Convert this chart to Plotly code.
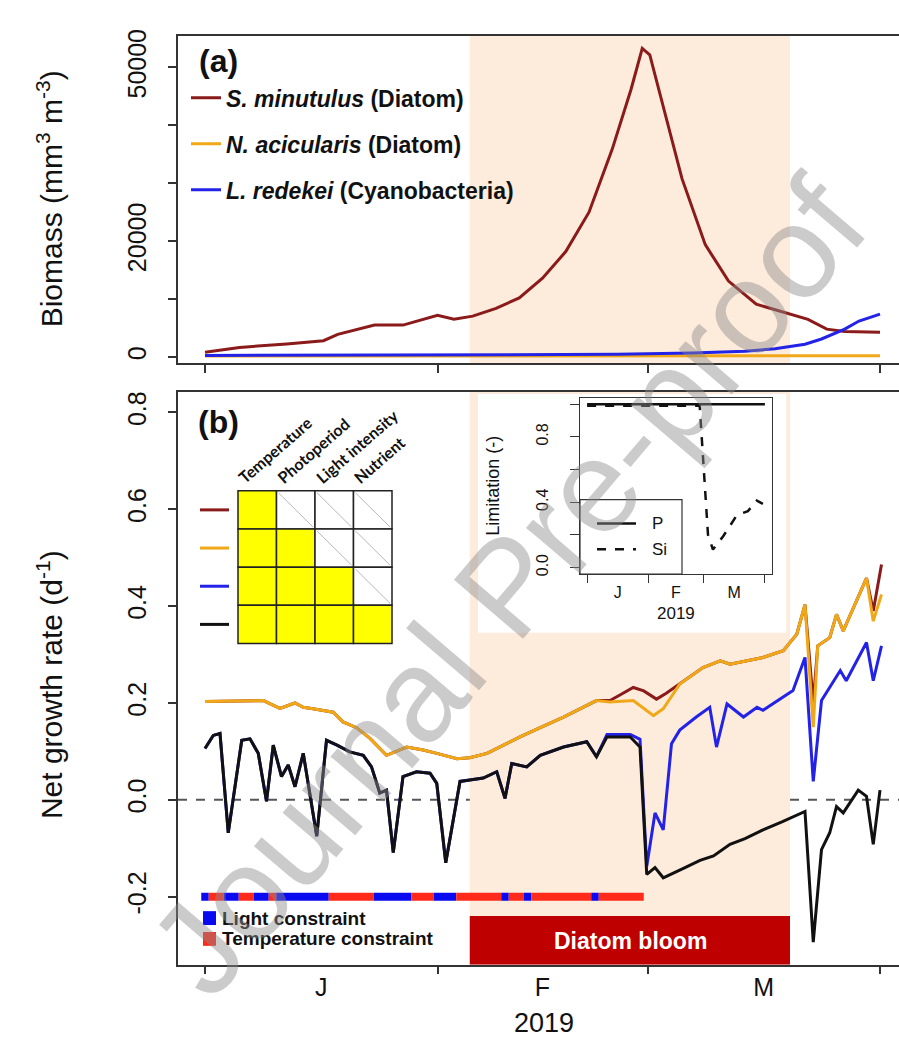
import plotly.graph_objects as go

W, H = 899, 1046
FONT = "Liberation Sans, Arial, sans-serif"

# ---------------- data ----------------
month_ticks = [0, 31, 59, 90]
month_mid = [15.5, 45, 74.5]
month_labels = ["J", "F", "M"]
bloom_start, bloom_end = 35.3, 78.0

# (a) biomass, mm3 m-3 (day of 2019)
smin_bio_day = [0, 4.6, 10.9, 15.8, 17.7, 22.6, 26.4, 31.0, 33.2, 35.7, 38.8, 41.9, 45.0, 48.1,
                51.2, 54.3, 56.8, 58.3, 59.3, 61.1, 63.6, 66.7, 69.8, 73.5, 77.9, 80.4, 82.9, 85.3, 90.0]
smin_bio = [800, 1650, 2250, 2800, 3900, 5500, 5500, 7200, 6500, 7050, 8400, 10200, 13600, 18200,
            25000, 35900, 46200, 53300, 52200, 43300, 30800, 19400, 13100, 9100, 7400, 6500, 4800, 4400, 4250]
nacic_bio_day = [0, 30, 60, 90]
nacic_bio = [150, 160, 180, 200]
lred_bio_day = [0, 20, 40, 55, 65, 72, 76, 80, 82.2, 85.3, 87.2, 90]
lred_bio = [250, 300, 350, 450, 700, 1000, 1400, 2200, 3100, 4800, 6200, 7400]
bio_ticks_labelled = [0, 20000, 50000]
bio_ticklabels = ["0", "20000", "50000"]
bio_ticks_unlabelled = [10000, 30000, 40000]

# (b) net growth rate, d-1
smin_gr_day = [0, 7.8, 8.7, 10, 12, 13.1, 14.4, 15.8, 17.1, 18.4, 20.2, 22, 24.2, 26.9, 29.1, 30.9,
               33.6, 35.3, 37.6, 39.8, 42, 44.7, 47.8, 52.2, 54, 55.5, 57.1, 58.5, 60.2, 61.5, 63.3,
               66.4, 68.7, 70, 74.4, 77.1, 78.9, 80, 81.1, 81.7, 83.3, 84.2, 85.1, 88.2, 89.1, 90.2]
smin_gr = [0.203, 0.205, 0.198, 0.189, 0.200, 0.191, 0.188, 0.185, 0.181, 0.161, 0.149, 0.127, 0.092,
           0.109, 0.103, 0.096, 0.085, 0.087, 0.096, 0.113, 0.130, 0.149, 0.171, 0.205, 0.205, 0.218,
           0.232, 0.225, 0.208, 0.220, 0.239, 0.273, 0.287, 0.280, 0.294, 0.308, 0.342, 0.403, 0.200,
           0.318, 0.335, 0.383, 0.349, 0.458, 0.390, 0.486]
nacic_gr_day = [0, 7.8, 8.7, 10, 12, 13.1, 14.4, 15.8, 17.1, 18.4, 20.2, 22, 24.2, 26.9, 29.1, 30.9,
                33.6, 35.3, 37.6, 39.8, 42, 44.7, 47.8, 52.2, 54, 57.1, 59.8, 61.1, 63.3, 66.4, 68.7,
                70, 74.4, 77.1, 78.9, 80, 81.1, 81.7, 83.3, 84.2, 85.1, 88.2, 89.1, 90.2]
nacic_gr = [0.203, 0.205, 0.198, 0.189, 0.200, 0.191, 0.188, 0.185, 0.181, 0.161, 0.149, 0.127, 0.092,
            0.109, 0.103, 0.096, 0.085, 0.087, 0.096, 0.113, 0.130, 0.149, 0.171, 0.205, 0.202, 0.205,
            0.174, 0.188, 0.239, 0.273, 0.287, 0.280, 0.294, 0.308, 0.342, 0.403, 0.150, 0.318, 0.335,
            0.383, 0.349, 0.458, 0.369, 0.424]
lred_gr_day = [0, 1.1, 2, 3.1, 4.9, 6, 7.1, 8.2, 9.1, 10.2, 11.1, 12, 13.1, 14.9, 16.2, 17.6, 19.3,
               21.1, 22.2, 23.3, 24.2, 25.1, 26.4, 28.2, 30, 30.9, 32.1, 34, 35.3, 37.1, 38.9, 40, 40.9,
               42.9, 44.7, 47.8, 50.9, 52.2, 53.6, 56.7, 58, 58.9, 60, 61.1, 62.2, 63.3, 65.5, 67.3,
               68.2, 69.6, 71.8, 73.6, 74.4, 77.1, 78.4, 80, 81.1, 82.2, 83.3, 84.7, 85.5, 88.2, 89.1, 90.2]
lred_gr = [0.106, 0.133, 0.137, -0.068, 0.123, 0.126, 0.096, -0.003, 0.113, 0.048, 0.072, 0.027, 0.096,
           -0.075, 0.123, 0.113, 0.099, 0.092, 0.068, 0.014, 0.020, -0.109, 0.048, 0.058, 0.055, 0.034,
           -0.130, 0.038, 0.041, 0.045, 0.058, 0.003, 0.075, 0.068, 0.092, 0.109, 0.120, 0.089, 0.135,
           0.135, 0.125, -0.137, -0.027, -0.062, 0.116, 0.144, 0.171, 0.191, 0.109, 0.198, 0.171, 0.191,
           0.185, 0.212, 0.226, 0.294, 0.038, 0.205, 0.232, 0.267, 0.246, 0.325, 0.246, 0.318]
all_gr_day = [0, 1.1, 2, 3.1, 4.9, 6, 7.1, 8.2, 9.1, 10.2, 11.1, 12, 13.1, 14.9, 16.2, 17.6, 19.3,
              21.1, 22.2, 23.3, 24.2, 25.1, 26.4, 28.2, 30, 30.9, 32.1, 34, 35.3, 37.1, 38.9, 40, 40.9,
              42.9, 44.7, 47.8, 50.9, 52.2, 53.6, 56.7, 58, 58.9, 60, 61.1, 64, 66, 67.8, 70, 72, 74.4,
              77, 80, 81.1, 82.2, 83.3, 84.2, 85.1, 87.1, 88.2, 89.1, 90]
all_gr = [0.106, 0.133, 0.137, -0.068, 0.123, 0.126, 0.096, -0.003, 0.113, 0.048, 0.072, 0.027, 0.096,
          -0.075, 0.123, 0.113, 0.099, 0.092, 0.068, 0.014, 0.020, -0.109, 0.048, 0.058, 0.055, 0.034,
          -0.130, 0.038, 0.041, 0.045, 0.058, 0.003, 0.075, 0.068, 0.092, 0.109, 0.120, 0.089, 0.130,
          0.130, 0.109, -0.154, -0.140, -0.161, -0.140, -0.125, -0.116, -0.092, -0.080, -0.062, -0.045,
          -0.024, -0.294, -0.103, -0.068, -0.014, -0.027, 0.020, 0.007, -0.092, 0.020]
gr_ticks = [-0.2, 0.0, 0.2, 0.4, 0.6, 0.8]
gr_ticklabels = ["-0.2", "0.0", "0.2", "0.4", "0.6", "0.8"]

# daily dominant constraint (L = light, T = temperature), days 0..58
constraint_code = "LTTLLTTLLTLLLLLLLTTTTTTLLLLLTTTLLLTTTTTTLTTLTTTTTTTTLTTTTTT"
constraint_level = -0.2

# limitation matrix (rows: species, cols: factors)
matrix_factors = ["Temperature", "Photoperiod", "Light intensity", "Nutrient"]
matrix_rows = [[1, 0, 0, 0], [1, 1, 0, 0], [1, 1, 1, 0], [1, 1, 1, 1]]

# inset: nutrient limitation of S. minutulus
P_day = [0, 30, 60, 90]
P_lim = [1.0, 1.0, 1.0, 1.0]
Si_day = [0, 20, 40, 57, 61.2, 63.7, 68.8, 75.8, 81.4, 85.9, 89]
Si_lim = [0.99, 0.99, 0.99, 0.99, 0.20, 0.11, 0.19, 0.32, 0.345, 0.41, 0.39]
lim_ticks_labelled = [0, 0.4, 0.8]
lim_ticklabels = ["0.0", "0.4", "0.8"]
lim_ticks_unlabelled = [0.2, 0.6, 1.0]

# ---------------- styling ----------------
C_SMIN = "#8B1A1A"
C_NACI = "#F0A818"
C_LRED = "#2222E8"
C_ALL = "#111111"
C_LIGHT = "#0A0AF0"
C_TEMP = "#FF2A1A"
C_SHADE = "#FDEBDB"
C_BLOOM = "#BE0000"
AX = "#333333"


def fx(p):
    return p / W


def fy(p):
    return 1 - p / H


X_RANGE = [-3.6, (899 - 205) / 7.5]

fig = go.Figure()

# panel (a)
fig.add_trace(go.Scatter(x=smin_bio_day, y=smin_bio, mode="lines", line=dict(color=C_SMIN, width=3),
                         name="<b><i>S. minutulus</i> (Diatom)</b>", legendgroup="g1", xaxis="x", yaxis="y"))
fig.add_trace(go.Scatter(x=nacic_bio_day, y=nacic_bio, mode="lines", line=dict(color=C_NACI, width=3),
                         name="<b><i>N. acicularis</i> (Diatom)</b>", legendgroup="g2", xaxis="x", yaxis="y"))
fig.add_trace(go.Scatter(x=lred_bio_day, y=lred_bio, mode="lines", line=dict(color=C_LRED, width=3),
                         name="<b><i>L. redekei</i> (Cyanobacteria)</b>", legendgroup="g3", xaxis="x", yaxis="y"))

# panel (b)
for xs, ys, col in [(smin_gr_day, smin_gr, C_SMIN), (nacic_gr_day, nacic_gr, C_NACI),
                    (lred_gr_day, lred_gr, C_LRED), (all_gr_day, all_gr, C_ALL)]:
    fig.add_trace(go.Scatter(x=xs, y=ys, mode="lines", line=dict(color=col, width=3),
                             showlegend=False, xaxis="x2", yaxis="y2"))

# constraint strip: consecutive runs
runs = []
start = 0
for i in range(1, len(constraint_code) + 1):
    if i == len(constraint_code) or constraint_code[i] != constraint_code[start]:
        runs.append((start, i - 1, constraint_code[start]))
        start = i
for a, b, code in runs:
    fig.add_trace(go.Scatter(x=[a - 0.5, b + 0.5], y=[constraint_level, constraint_level], mode="lines",
                             line=dict(color=C_LIGHT if code == "L" else C_TEMP, width=8),
                             showlegend=False, xaxis="x2", yaxis="y2", hoverinfo="skip"))

# inset
fig.add_trace(go.Scatter(x=P_day, y=P_lim, mode="lines", line=dict(color="#111", width=2.5),
                         showlegend=False, xaxis="x3", yaxis="y3"))
fig.add_trace(go.Scatter(x=Si_day, y=Si_lim, mode="lines", line=dict(color="#111", width=2.5, dash="dash"),
                         showlegend=False, xaxis="x3", yaxis="y3"))

line_kw = dict(showgrid=False, zeroline=False, showline=True, linecolor=AX, linewidth=1.5)
tick_kw = dict(ticks="outside", ticklen=8, tickwidth=1.5, tickcolor=AX)
main_font = dict(family=FONT, size=25, color="#111")
inset_font = dict(family=FONT, size=16, color="#111")

fig.update_layout(
    width=W, height=H, margin=dict(l=0, r=0, t=0, b=0),
    paper_bgcolor="white", plot_bgcolor="rgba(0,0,0,0)",
    font=dict(family=FONT, color="#111"),
    xaxis=dict(domain=[fx(178), 1], range=X_RANGE, tickvals=month_ticks, showticklabels=False,
               anchor="y", mirror=True, **line_kw, **tick_kw),
    yaxis=dict(domain=[fy(359), fy(29)], range=[-1030, 55480], tickvals=bio_ticks_labelled,
               ticktext=bio_ticklabels,
               minor=dict(tickvals=bio_ticks_unlabelled, ticks="outside", ticklen=8, tickwidth=1.5, tickcolor=AX),
               tickangle=-90, tickfont=main_font, ticklabelstandoff=12, anchor="x", **line_kw, **tick_kw),
    xaxis2=dict(domain=[fx(178), 1], range=X_RANGE, tickvals=month_mid, ticktext=month_labels, ticks="",
                minor=dict(tickvals=month_ticks, ticks="outside", ticklen=8, tickwidth=1.5, tickcolor=AX),
                tickfont=main_font, ticklabelstandoff=0, anchor="y2", mirror=True, **line_kw),
    yaxis2=dict(domain=[fy(966), fy(388)], range=[-0.3405, 0.843], tickvals=gr_ticks, ticktext=gr_ticklabels,
                tickangle=-90, tickfont=main_font, ticklabelstandoff=12, anchor="x2", **line_kw, **tick_kw),
    xaxis3=dict(domain=[fx(580), fx(772)], range=[-3.6, 93.6], tickvals=month_mid, ticktext=month_labels,
                ticks="", minor=dict(tickvals=month_ticks, ticks="outside", ticklen=8, tickwidth=1.2, tickcolor=AX),
                tickfont=inset_font, ticklabelstandoff=4, anchor="y3", mirror=True,
                showgrid=False, zeroline=False, showline=True, linecolor=AX, linewidth=1.2),
    yaxis3=dict(domain=[fy(572), fy(394)], range=[-0.04, 1.04], tickvals=lim_ticks_labelled,
                ticktext=lim_ticklabels,
                minor=dict(tickvals=lim_ticks_unlabelled, ticks="outside", ticklen=9, tickwidth=1.2, tickcolor=AX),
                tickangle=-90, tickfont=inset_font, ticklabelstandoff=16, anchor="x3", mirror=True,
                showgrid=False, zeroline=False, showline=True, linecolor=AX, linewidth=1.2,
                ticks="outside", ticklen=9, tickwidth=1.2, tickcolor=AX),
    legend=dict(x=fx(186), y=fy(70), xanchor="left", yanchor="top", bgcolor="rgba(0,0,0,0)",
                font=dict(family=FONT, size=23, color="#111"), tracegroupgap=13, itemwidth=30),
)

shapes = []
# bloom shading
shapes.append(dict(type="rect", xref="x", yref="y domain", x0=bloom_start, x1=bloom_end, y0=0, y1=1,
                   fillcolor=C_SHADE, line=dict(width=0), layer="below"))
shapes.append(dict(type="rect", xref="x2", yref="y2", x0=bloom_start, x1=bloom_end, y0=-0.24, y1=0.843,
                   fillcolor=C_SHADE, line=dict(width=0), layer="below"))
# white background behind inset
shapes.append(dict(type="rect", xref="x2", yref="y2", x0=36.4, x1=77.5, y0=0.345, y1=0.838,
                   fillcolor="white", line=dict(width=0), layer="below"))
# zero line
shapes.append(dict(type="line", xref="x2 domain", yref="y2", x0=0, x1=1, y0=0, y1=0,
                   line=dict(color="#555", width=2, dash="dash"), layer="below"))
# diatom bloom box
shapes.append(dict(type="rect", xref="x2", yref="y2", x0=bloom_start, x1=bloom_end, y0=-0.3405, y1=-0.24,
                   fillcolor=C_BLOOM, line=dict(width=0), layer="above"))

# constraint legend squares
shapes.append(dict(type="rect", xref="paper", yref="paper", x0=fx(203), x1=fx(216), y0=fy(926), y1=fy(912),
                   fillcolor=C_LIGHT, line=dict(width=0)))
shapes.append(dict(type="rect", xref="paper", yref="paper", x0=fx(203), x1=fx(216), y0=fy(947), y1=fy(933),
                   fillcolor=C_TEMP, line=dict(width=0)))

# limitation matrix
col_edges = [238, 276.5, 315, 353.5, 392]
row_edges = [488, 526.5, 565, 603.5, 642]
row_colors = [C_SMIN, C_NACI, C_LRED, C_ALL]
for r, row in enumerate(matrix_rows):
    for c, val in enumerate(row):
        shapes.append(dict(type="rect", xref="paper", yref="paper",
                           x0=fx(col_edges[c]), x1=fx(col_edges[c + 1]),
                           y0=fy(row_edges[r + 1]), y1=fy(row_edges[r]),
                           fillcolor="#FFFF00" if val else "white", line=dict(color="#222", width=1.5)))
        if not val:
            shapes.append(dict(type="line", xref="paper", yref="paper",
                               x0=fx(col_edges[c] + 2), x1=fx(col_edges[c + 1] - 2),
                               y0=fy(row_edges[r] + 2), y1=fy(row_edges[r + 1] - 2),
                               line=dict(color="#B8B8B8", width=1)))
    yc = (row_edges[r] + row_edges[r + 1]) / 2
    shapes.append(dict(type="line", xref="paper", yref="paper", x0=fx(200), x1=fx(229), y0=fy(yc), y1=fy(yc),
                       line=dict(color=row_colors[r], width=3)))

# inset legend
shapes.append(dict(type="rect", xref="paper", yref="paper", x0=fx(580), x1=fx(682), y0=fy(572), y1=fy(497),
                   fillcolor="white", line=dict(color=AX, width=1.2)))
shapes.append(dict(type="line", xref="paper", yref="paper", x0=fx(597), x1=fx(636), y0=fy(521), y1=fy(521),
                   line=dict(color="#111", width=2.5)))
shapes.append(dict(type="line", xref="paper", yref="paper", x0=fx(597), x1=fx(636), y0=fy(547), y1=fy(547),
                   line=dict(color="#111", width=2.5, dash="dash")))

fig.update_layout(shapes=shapes)

ann = []


def text(t, x, y, size, xanchor="center", yanchor="middle", angle=0, color="#111", family=FONT, **kw):
    ann.append(dict(text=t, x=fx(x), y=fy(y), xref="paper", yref="paper", showarrow=False,
                    xanchor=xanchor, yanchor=yanchor, textangle=angle,
                    font=dict(family=family, size=size, color=color), **kw))


text("<b>(a)</b>", 218, 54, 32)
text("<b>(b)</b>", 218, 419, 32)
text("Biomass (mm<sup>3</sup> m<sup>-3</sup>)", 50, 194, 30, angle=-90)
text("Net growth rate (d<sup>-1</sup>)", 50, 684, 30, angle=-90)
text("2019", 544, 1025, 27)
text("Limitation (-)", 493, 483, 18, angle=-90)
text("2019", 676, 612, 17)
text("P", 650, 521, 17, xanchor="left")
text("Si", 650, 547, 17, xanchor="left")
text("<b>Light constraint</b>", 220, 919, 19, xanchor="left")
text("<b>Temperature constraint</b>", 220, 940, 19, xanchor="left")
text("<b>Diatom bloom</b>", (470 + 790) / 2, 942, 23, color="white")
for c, name in enumerate(matrix_factors):
    text("<b>%s</b>" % name, col_edges[c] - 6, 487, 16, xanchor="left", yanchor="bottom", angle=-41,
         family="Lato, Open Sans, sans-serif")
# publisher watermark
text("Journal Pre-proof", 508, 585, 132, angle=-49.5, color="rgba(140,140,140,0.45)")

fig.update_layout(annotations=ann)

fig.write_html("out.html", config={"displayModeBar": False},
               post_script="document.body.style.margin='0px';")
